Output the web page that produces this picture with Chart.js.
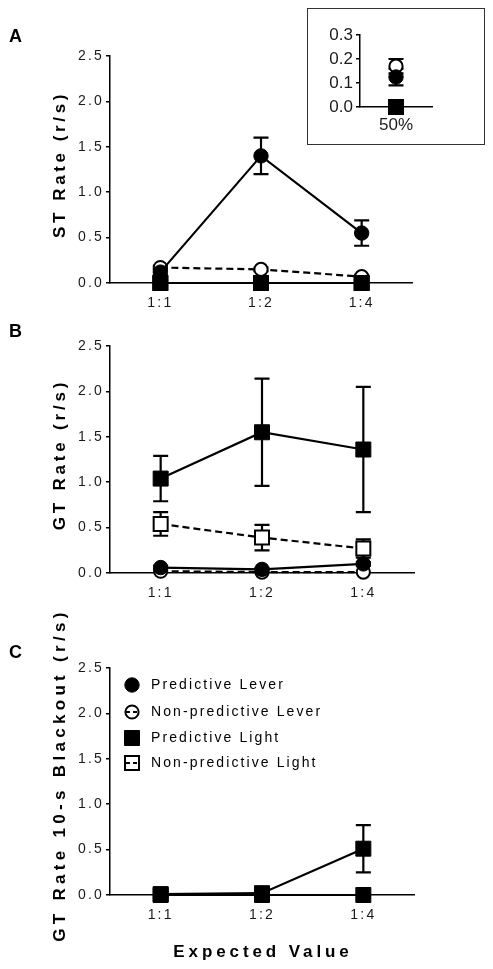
<!DOCTYPE html>
<html>
<head>
<meta charset="utf-8">
<script src="https://cdn.jsdelivr.net/npm/chart.js@4/dist/chart.umd.min.js"></script>
<style>
  html, body { margin: 0; padding: 0; background: #fff; }
  body { position: relative; width: 493px; height: 969px; overflow: hidden; }
  canvas { position: absolute; left: 0; }
  #insetBox { position: absolute; left: 307px; top: 8px; width: 176px; height: 135px; border: 1px solid #333; }
</style>
</head>
<body>
<canvas id="cA" width="493" height="330" style="top:0px;width:493px;height:330px"></canvas>
<canvas id="cB" width="493" height="330" style="top:310px;width:493px;height:330px"></canvas>
<canvas id="cC" width="493" height="379" style="top:590px;width:493px;height:379px"></canvas>
<div id="insetBox"></div>
<canvas id="cI" width="178" height="137" style="left:307px;top:8px;width:178px;height:137px"></canvas>
<script>
// ---------------- DATA ----------------
const categories = ['1:1', '1:2', '1:4'];
const insetCategories = ['50%'];
const seriesNames = ['Predictive Lever', 'Non-predictive Lever', 'Predictive Light', 'Non-predictive Light'];
const seriesKinds = ['predLever', 'nonPredLever', 'predLight', 'nonPredLight'];
const mainYTicks = [0, 0.5, 1.0, 1.5, 2.0, 2.5];
const insetYTicks = [0, 0.1, 0.2, 0.3];

const panelLetters = ['A', 'B', 'C'];
const yTitleA = 'ST Rate (r/s)';
const yTitleB = 'GT Rate (r/s)';
const yTitleC = 'GT Rate 10-s Blackout (r/s)';
const xTitle = 'Expected Value';

// Panel A – ST rate
const stPredLever = [0.12, 1.40, 0.55];
const stPredLeverErr = [0.03, 0.20, 0.14];
const stNonPredLever = [0.17, 0.15, 0.07];
const stNonPredLeverErr = [0.02, 0.02, 0.02];
const stPredLight = [0, 0, 0];
const stNonPredLight = [0, 0, 0];

// Inset (50%)
const insetPredLever = [0.125];
const insetPredLeverErr = [0.035];
const insetNonPredLever = [0.17];
const insetNonPredLeverErr = [0.03];
const insetPredLight = [0];
const insetNonPredLight = [0];

// Panel B – GT rate
const gtPredLever = [0.06, 0.04, 0.10];
const gtPredLeverErr = [0.02, 0.01, 0.02];
const gtNonPredLever = [0.02, 0.01, 0.01];
const gtPredLight = [1.04, 1.55, 1.36];
const gtPredLightErr = [0.25, 0.59, 0.69];
const gtNonPredLight = [0.54, 0.39, 0.27];
const gtNonPredLightErr = [0.13, 0.14, 0.10];

// Panel C – GT rate 10-s blackout
const boPredLever = [0, 0, 0];
const boNonPredLever = [0, 0, 0];
const boPredLight = [0.01, 0.02, 0.51];
const boPredLightErr = [0, 0, 0.26];
const boNonPredLight = [0, 0, 0];

// ---------------- STYLE ----------------
const FONT = "'Liberation Sans', Arial, Helvetica, sans-serif";
const STYLE = {
  predLever:    { pointStyle: 'circle', filled: true,  dash: [] },
  nonPredLever: { pointStyle: 'circle', filled: false, dash: [7, 4] },
  predLight:    { pointStyle: 'rect',   filled: true,  dash: [] },
  nonPredLight: { pointStyle: 'rect',   filled: false, dash: [7, 4] }
};
const ORDER = { predLight: 1, nonPredLight: 2, predLever: 3, nonPredLever: 4 };

function ds(kind, label, data, err, fillOverride) {
  const st = STYLE[kind];
  const filled = fillOverride === undefined ? st.filled : fillOverride;
  const circle = st.pointStyle === 'circle';
  return {
    label: label, data: data, errorBars: err || null,
    borderColor: '#000', borderWidth: 2.2, borderDash: st.dash, tension: 0, fill: false, clip: false,
    pointStyle: st.pointStyle,
    pointRadius: circle ? (filled ? 7.2 : 6.6) : (filled ? 10.6 : 9.9),
    pointBorderWidth: filled ? 1 : 2,
    pointBackgroundColor: filled ? '#000' : '#fff',
    pointBorderColor: '#000',
    order: ORDER[kind]
  };
}

// ---------------- PLUGINS ----------------
const errorBarPlugin = {
  id: 'errorBars',
  beforeDatasetsDraw(chart) {
    const ctx = chart.ctx;
    const ys = chart.scales.y;
    chart.data.datasets.forEach((d, i) => {
      if (!d.errorBars) return;
      const meta = chart.getDatasetMeta(i);
      ctx.save();
      ctx.strokeStyle = '#000';
      ctx.lineWidth = 2.2;
      ctx.setLineDash([]);
      meta.data.forEach((pt, j) => {
        const e = d.errorBars[j];
        if (!e) return;
        const v = d.data[j];
        const yt = ys.getPixelForValue(v + e);
        const yb = ys.getPixelForValue(v - e);
        const x = pt.x, cw = 7.5;
        ctx.beginPath();
        ctx.moveTo(x, yt); ctx.lineTo(x, yb);
        ctx.moveTo(x - cw, yt); ctx.lineTo(x + cw, yt);
        ctx.moveTo(x - cw, yb); ctx.lineTo(x + cw, yb);
        ctx.stroke();
      });
      ctx.restore();
    });
  }
};

function setSpacing(chart, opts) {
  try { chart.ctx.letterSpacing = (opts && opts.spacing) || '0px'; } catch (e) {}
}

const panelTextPlugin = {
  id: 'panelText',
  afterInit(chart, args, opts) { setSpacing(chart, opts); },
  beforeUpdate(chart, args, opts) { setSpacing(chart, opts); },
  beforeDraw(chart, args, opts) { setSpacing(chart, opts); },
  afterDraw(chart, args, opts) {
    const ctx = chart.ctx;
    const a = chart.chartArea;
    ctx.save();
    ctx.fillStyle = '#000';
    if (opts.letter) {
      ctx.letterSpacing = '0px';
      ctx.font = 'bold 18px ' + FONT;
      ctx.textAlign = 'left';
      ctx.textBaseline = 'middle';
      ctx.fillText(opts.letter, 9, opts.letterY);
    }
    if (opts.yTitle) {
      ctx.save();
      ctx.letterSpacing = opts.yTitleSpacing + 'px';
      ctx.font = 'bold 17px ' + FONT;
      ctx.textAlign = 'center';
      ctx.textBaseline = 'middle';
      ctx.translate(opts.yTitleX, (a.top + a.bottom) / 2 + opts.yTitleShift);
      ctx.rotate(-Math.PI / 2);
      ctx.fillText(opts.yTitle, 0, 0);
      ctx.restore();
    }
    if (opts.xTitle) {
      ctx.save();
      ctx.letterSpacing = '3.9px';
      ctx.font = 'bold 17px ' + FONT;
      ctx.textAlign = 'center';
      ctx.textBaseline = 'middle';
      ctx.fillText(opts.xTitle, (a.left + a.right) / 2 + 1, a.bottom + opts.xTitleOffset);
      ctx.restore();
    }
    if (opts.showLegend) {
      ctx.save();
      ctx.letterSpacing = '2.1px';
      ctx.font = '14px ' + FONT;
      ctx.textAlign = 'left';
      ctx.textBaseline = 'middle';
      const mx = a.left + 22, tx = a.left + 41;
      const rows = [17, 44, 70, 95];
      seriesKinds.forEach((k, i) => {
        const st = STYLE[k];
        const y = a.top + rows[i];
        // line segment
        ctx.save();
        ctx.strokeStyle = '#000'; ctx.lineWidth = 2; ctx.setLineDash(st.dash.length ? [4, 3] : []);
        ctx.beginPath(); ctx.moveTo(mx - 6, y); ctx.lineTo(mx + 7, y); ctx.stroke();
        ctx.restore();
        // marker
        ctx.save();
        ctx.setLineDash([]);
        ctx.strokeStyle = '#000';
        ctx.lineWidth = st.filled ? 1 : 2;
        ctx.fillStyle = '#000';
        ctx.beginPath();
        if (st.pointStyle === 'circle') {
          ctx.arc(mx, y, st.filled ? 7.2 : 6.6, 0, Math.PI * 2);
        } else {
          const h = st.filled ? 7.5 : 7;
          ctx.rect(mx - h, y - h, 2 * h, 2 * h);
        }
        if (st.filled) ctx.fill();
        ctx.stroke();
        ctx.restore();
        ctx.fillStyle = '#000';
        ctx.fillText(seriesNames[i], tx, y);
      });
      ctx.restore();
    }
    ctx.restore();
  }
};

Chart.register(errorBarPlugin, panelTextPlugin);

function mainOptions(p) {
  return {
    responsive: false, animation: false, events: [],
    layout: { padding: { left: p.left - 60, right: 493 - p.right, top: p.top, bottom: p.canvasH - p.bottom - 30 } },
    scales: {
      x: {
        type: 'category', offset: true,
        grid: { display: false, drawTicks: false },
        border: { display: true, color: '#000', width: 1.5 },
        ticks: { color: '#1a1a1a', font: { family: FONT, size: 14 }, padding: 12, maxRotation: 0, autoSkip: false },
        afterFit: s => { s.height = 30; }
      },
      y: {
        min: 0, max: 2.5,
        grid: { display: true, drawOnChartArea: false, drawTicks: true, tickLength: 4, color: '#000', lineWidth: 1.5 },
        border: { display: true, color: '#000', width: 1.5 },
        ticks: { color: '#1a1a1a', font: { family: FONT, size: 14 }, padding: 2, callback: v => Number(v).toFixed(1) },
        afterBuildTicks: s => { s.ticks = mainYTicks.map(v => ({ value: v })); },
        afterFit: s => { s.width = 60; }
      }
    },
    plugins: {
      legend: { display: false }, tooltip: { enabled: false },
      panelText: Object.assign({ spacing: '2.2px' }, p.text)
    }
  };
}

// Panel A
new Chart(document.getElementById('cA'), {
  type: 'line',
  data: {
    labels: categories,
    datasets: [
      ds('predLever', seriesNames[0], stPredLever, stPredLeverErr),
      ds('nonPredLever', seriesNames[1], stNonPredLever, stNonPredLeverErr),
      ds('predLight', seriesNames[2], stPredLight),
      ds('nonPredLight', seriesNames[3], stNonPredLight)
    ]
  },
  options: mainOptions({ left: 110, right: 412, top: 56, bottom: 283, canvasH: 330,
    text: { letter: panelLetters[0], letterY: 37.5, yTitle: yTitleA, yTitleX: 60, yTitleShift: -5, yTitleSpacing: 3.6 } })
});

// Panel B
new Chart(document.getElementById('cB'), {
  type: 'line',
  data: {
    labels: categories,
    datasets: [
      ds('predLever', seriesNames[0], gtPredLever, gtPredLeverErr),
      ds('nonPredLever', seriesNames[1], gtNonPredLever),
      ds('predLight', seriesNames[2], gtPredLight, gtPredLightErr),
      ds('nonPredLight', seriesNames[3], gtNonPredLight, gtNonPredLightErr)
    ]
  },
  options: mainOptions({ left: 110, right: 414, top: 36, bottom: 263, canvasH: 330,
    text: { letter: panelLetters[1], letterY: 22, yTitle: yTitleB, yTitleX: 60, yTitleShift: -5, yTitleSpacing: 3.8 } })
});

// Panel C
new Chart(document.getElementById('cC'), {
  type: 'line',
  data: {
    labels: categories,
    datasets: [
      ds('predLever', seriesNames[0], boPredLever),
      ds('nonPredLever', seriesNames[1], boNonPredLever),
      ds('predLight', seriesNames[2], boPredLight, boPredLightErr),
      ds('nonPredLight', seriesNames[3], boNonPredLight, null, true)
    ]
  },
  options: mainOptions({ left: 110, right: 414, top: 78, bottom: 305, canvasH: 379,
    text: { letter: panelLetters[2], letterY: 63, yTitle: yTitleC, yTitleX: 60, yTitleShift: -6.5, yTitleSpacing: 4.3,
            xTitle: xTitle, xTitleOffset: 57, showLegend: true } })
});

// Inset
new Chart(document.getElementById('cI'), {
  type: 'line',
  data: {
    labels: insetCategories,
    datasets: [
      ds('predLever', seriesNames[0], insetPredLever, insetPredLeverErr),
      ds('nonPredLever', seriesNames[1], insetNonPredLever, insetNonPredLeverErr),
      ds('predLight', seriesNames[2], insetPredLight),
      ds('nonPredLight', seriesNames[3], insetNonPredLight)
    ]
  },
  options: {
    responsive: false, animation: false, events: [],
    layout: { padding: { left: 13, right: 53, top: 27, bottom: 8 } },
    scales: {
      x: {
        type: 'category', offset: true,
        grid: { display: false, drawTicks: false },
        border: { display: true, color: '#000', width: 1.5 },
        ticks: { color: '#1a1a1a', font: { family: FONT, size: 17 }, padding: 8, maxRotation: 0 },
        afterFit: s => { s.height = 30; }
      },
      y: {
        min: 0, max: 0.3,
        grid: { display: true, drawOnChartArea: false, drawTicks: true, tickLength: 4, color: '#000', lineWidth: 1.5 },
        border: { display: true, color: '#000', width: 1.5 },
        ticks: { color: '#1a1a1a', font: { family: FONT, size: 17 }, padding: 3, callback: v => Number(v).toFixed(1) },
        afterBuildTicks: s => { s.ticks = insetYTicks.map(v => ({ value: v })); },
        afterFit: s => { s.width = 40; }
      }
    },
    plugins: { legend: { display: false }, tooltip: { enabled: false }, panelText: { spacing: '0px' } }
  }
});
</script>
</body>
</html>
